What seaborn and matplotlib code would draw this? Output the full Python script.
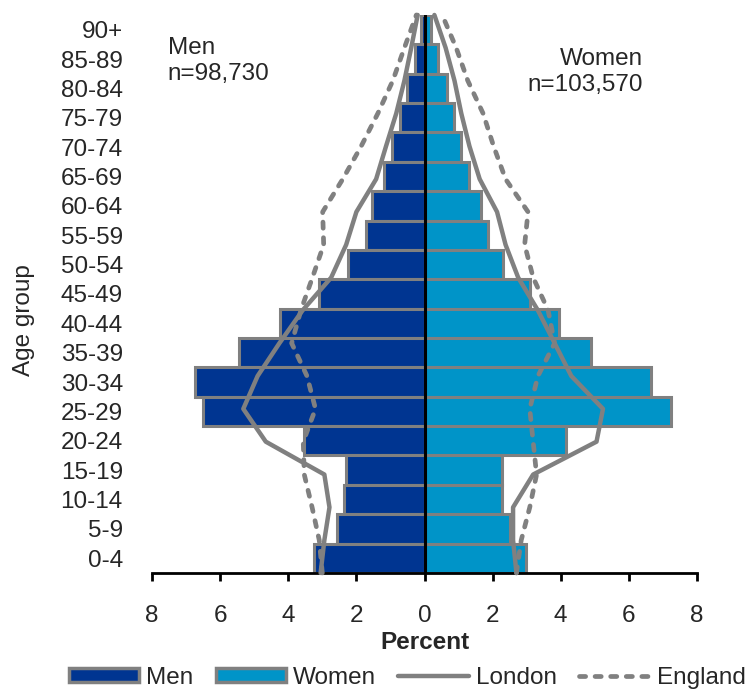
import matplotlib
matplotlib.use('Agg')
import matplotlib.pyplot as plt
from matplotlib.patches import Patch
from matplotlib.lines import Line2D
from matplotlib.ticker import FuncFormatter
import seaborn as sns
import pandas as pd

# grupos de edad (de abajo a arriba)
ages = ['0-4', '5-9', '10-14', '15-19', '20-24', '25-29', '30-34', '35-39', '40-44',
        '45-49', '50-54', '55-59', '60-64', '65-69', '70-74', '75-79', '80-84', '85-89', '90+']
men = [3.24, 2.57, 2.35, 2.3, 3.55, 6.5, 6.75, 5.44, 4.24, 3.1,
       2.26, 1.72, 1.55, 1.2, 0.96, 0.73, 0.5, 0.27, 0.1]
women = [2.99, 2.5, 2.28, 2.28, 4.15, 7.25, 6.65, 4.9, 3.95, 3.09,
         2.3, 1.86, 1.65, 1.32, 1.08, 0.88, 0.66, 0.4, 0.18]

# lineas de referencia (18 puntos, de borde a borde)
line_pos = list(range(18))
london_men = [3.05, 2.94, 2.79, 2.94, 4.66, 5.32, 4.9, 4.26, 3.58,
              2.74, 2.3, 2.0, 1.42, 1.13, 0.83, 0.59, 0.39, 0.2]
england_men = [3.0, 3.09, 3.3, 3.53, 3.56, 3.2, 3.45, 3.9, 3.63,
               3.29, 2.96, 2.99, 2.4, 1.86, 1.37, 0.93, 0.59, 0.24]
london_women = [2.7, 2.6, 2.6, 3.19, 5.05, 5.24, 4.31, 3.82, 3.33,
                2.75, 2.38, 2.13, 1.62, 1.32, 1.08, 0.88, 0.62, 0.29]
england_women = [2.7, 2.84, 3.09, 3.29, 3.19, 3.09, 3.33, 3.82, 3.63,
                 3.19, 2.94, 3.04, 2.38, 2.03, 1.72, 1.27, 0.93, 0.52]

men_color = '#003591'
women_color = '#0094c8'
grey = '#808080'
dash = (0, (1.3, 2.0))

sns.set_style('white')
plt.rcParams['font.family'] = ['Liberation Sans', 'DejaVu Sans']
plt.rcParams['font.size'] = 17.5

df = pd.DataFrame({'age': ages, 'men': [-v for v in men], 'women': women})
order = ages[::-1]

fig = plt.figure(figsize=(7.54, 6.93), dpi=100)
ax = fig.add_axes([0.2016, 0.1732, 0.7228, 0.8052])

sns.barplot(data=df, x='men', y='age', order=order, orient='h', color=men_color,
            saturation=1, width=1.0, edgecolor=grey, linewidth=2.2, ax=ax)
sns.barplot(data=df, x='women', y='age', order=order, orient='h', color=women_color,
            saturation=1, width=1.0, edgecolor=grey, linewidth=2.2, ax=ax)

ax.set_xlim(-8, 8)
ax.set_ylim(18.5, -0.5)
ax.set_xticks(range(-8, 9, 2))
ax.xaxis.set_major_formatter(FuncFormatter(lambda v, p: f'{abs(int(v))}'))
ax.tick_params(axis='x', bottom=True, direction='out', length=6, width=2,
               color='black', pad=17, labelsize=17.5)
ax.tick_params(axis='y', length=0, pad=21, labelsize=17.5)
ax.set_xlabel('Percent', fontweight='bold', labelpad=3)
ax.set_ylabel('Age group')
ax.yaxis.set_label_coords(-0.215, 0.453)
for s in ['top', 'right', 'left']:
    ax.spines[s].set_visible(False)
ax.spines['bottom'].set_linewidth(2)
ax.spines['bottom'].set_color('black')

# eje secundario para las lineas
ax2 = ax.twinx()
ax2.set_ylim(0, 17)
ax2.set_yticks([])
for s in ax2.spines.values():
    s.set_visible(False)

sns.lineplot(x=[-v for v in london_men], y=line_pos, orient='y', sort=False, estimator=None,
             color=grey, lw=3.2, clip_on=False, ax=ax2)
sns.lineplot(x=london_women, y=line_pos, orient='y', sort=False, estimator=None,
             color=grey, lw=3.2, clip_on=False, ax=ax2)
sns.lineplot(x=[-v for v in england_men], y=line_pos, orient='y', sort=False, estimator=None,
             color=grey, lw=3.4, linestyle=dash, dash_capstyle='round',
             clip_on=False, ax=ax2)
sns.lineplot(x=england_women, y=line_pos, orient='y', sort=False, estimator=None,
             color=grey, lw=3.4, linestyle=dash, dash_capstyle='round',
             clip_on=False, ax=ax2)
ax2.axvline(0, color='black', lw=2.2, zorder=5)
ax2.set_xlim(-8, 8)

ax.text(0.029, 0.961, 'Men\nn=98,730', transform=ax.transAxes, ha='left', va='top',
        linespacing=1.25, fontsize=17.5)
ax.text(0.901, 0.941, 'Women\nn=103,570', transform=ax.transAxes, ha='right', va='top',
        multialignment='right', linespacing=1.25, fontsize=17.5)

handles = [
    Patch(facecolor=men_color, edgecolor=grey, linewidth=2.5, label='Men'),
    Patch(facecolor=women_color, edgecolor=grey, linewidth=2.5, label='Women'),
    Line2D([], [], color=grey, lw=3.2, label='London'),
    Line2D([], [], color=grey, lw=3.4, linestyle=dash, dash_capstyle='round',
           label='England'),
]
fig.legend(handles=handles, loc='center', bbox_to_anchor=(0.54, 0.022), ncol=4,
           frameon=False, handlelength=2.9, handleheight=0.55, handletextpad=0.3,
           columnspacing=0.9, fontsize=17.5)

fig.savefig('out.png', dpi=100)
